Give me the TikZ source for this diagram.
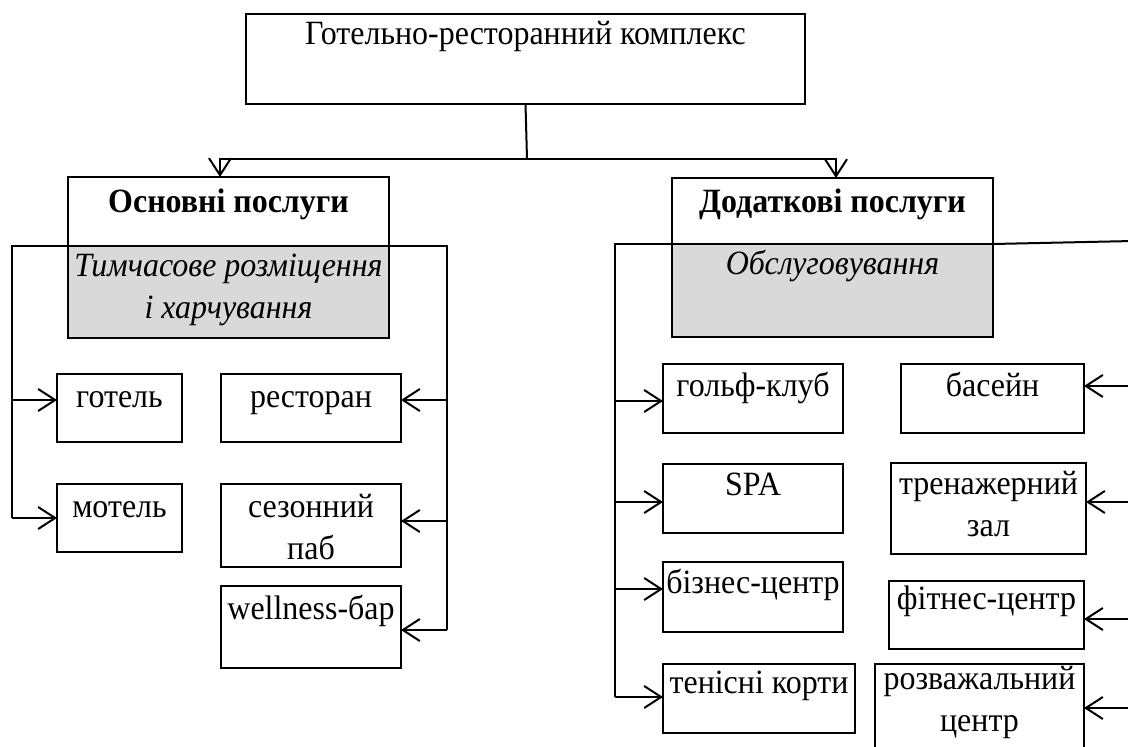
\documentclass[tikz,border=0pt]{standalone}
\usepackage{fontspec}
\setmainfont{Liberation Serif}[FakeStretch=0.94]
\usetikzlibrary{arrows.meta}
\newcommand\boxfont{\fontsize{34}{42}\selectfont}
\begin{document}
\begin{tikzpicture}[x=1pt,y=-1pt,
  frame/.style={draw, line width=2.6pt, inner sep=0pt, outer sep=0pt, anchor=north west},
  topframe/.style={frame, line width=2.2pt},
  greyframe/.style={frame, fill=gray!30},
  tx/.style={anchor=base, inner sep=0pt, text width=540pt, align=flush center, font=\boxfont},
  link/.style={line width=2pt},
  arr/.style={link, -{Straight Barb[length=17pt,width=22pt,line width=2pt]}}]
\useasboundingbox (0,0) rectangle (1128,747);
\fill[white] (0,0) rectangle (1128,747);
\clip (0,0) rectangle (1128,747);

% ---- root ----
\node[topframe, minimum width=559pt, minimum height=90pt] (top) at (246,14) {};
\node[tx, yshift=-30pt] (top-t) at (top.north) {Готельно-ресторанний комплекс};

% ---- two main groups ----
\node[greyframe, minimum width=321pt, minimum height=92pt] (lgrey) at (68,246) {};
\node[frame, minimum width=321pt, minimum height=69pt] (lhead) at (68,177) {};
\node[tx, yshift=-35pt, font=\boxfont\bfseries] (lhead-t) at (lhead.north) {Основні послуги};
\node[tx, yshift=-30pt, font=\boxfont\itshape] (lgrey-t) at (lgrey.north)
  {Тимчасове розміщення\\і харчування};

\node[greyframe, minimum width=321pt, minimum height=93pt] (rgrey) at (672,244) {};
\node[frame, minimum width=321pt, minimum height=66pt] (rhead) at (672,178) {};
\node[tx, yshift=-34pt, font=\boxfont\bfseries] (rhead-t) at (rhead.north) {Додаткові послуги};
\node[tx, yshift=-30pt, font=\boxfont\itshape] (rgrey-t) at (rgrey.north) {Обслуговування};

% ---- basic services ----
\node[frame, minimum width=125pt, minimum height=68pt] (gotel) at (57,374) {};
\node[tx, yshift=-33pt] at (gotel.north) {готель};
\node[frame, minimum width=125pt, minimum height=68pt] (motel) at (57,484) {};
\node[tx, yshift=-33pt] at (motel.north) {мотель};
\node[frame, minimum width=180pt, minimum height=68pt] (rest) at (221,374) {};
\node[tx, yshift=-33pt] at (rest.north) {ресторан};
\node[frame, minimum width=180pt, minimum height=83pt] (pub) at (221,484) {};
\node[tx, yshift=-33pt] at (pub.north) {сезонний\\паб};
\node[frame, minimum width=180pt, minimum height=82pt] (well) at (221,586) {};
\node[tx, yshift=-33pt] at (well.north) {wellness-бар};

% ---- additional services ----
\node[frame, minimum width=180pt, minimum height=69pt] (golf) at (663,364) {};
\node[tx, yshift=-32.5pt] at (golf.north) {гольф-клуб};
\node[frame, minimum width=180pt, minimum height=69pt] (spa) at (663,464) {};
\node[tx, yshift=-31.5pt] at (spa.north) {SPA};
\node[frame, minimum width=180pt, minimum height=70pt] (biz) at (663,562) {};
\node[tx, yshift=-31.5pt] at (biz.north) {бізнес-центр};
\node[frame, minimum width=192pt, minimum height=69pt] (tennis) at (663,664) {};
\node[tx, yshift=-29.5pt] at (tennis.north) {тенісні корти};

\node[frame, minimum width=183pt, minimum height=69pt] (pool) at (901,364) {};
\node[tx, yshift=-32.5pt] at (pool.north) {басейн};
\node[frame, minimum width=195pt, minimum height=91pt] (gym) at (891,463) {};
\node[tx, yshift=-31.5pt] at (gym.north) {тренажерний\\зал};
\node[frame, minimum width=195pt, minimum height=68pt] (fit) at (889,581) {};
\node[tx, yshift=-28.5pt] at (fit.north) {фітнес-центр};
\node[frame, minimum width=209pt, minimum height=100pt] (fun) at (875,664) {};
\node[tx, yshift=-25.5pt] at (fun.north) {розважальний\\центр};

% ---- root to groups ----
\coordinate (j) at (527,159);
\draw[link] (top.south) -- (j);
\draw[arr] (j) -| ([xshift=-8.5pt]lhead.north);
\draw[arr] (j) -| ([xshift=3.5pt]rhead.north);

% ---- basic services rails ----
\coordinate (la) at (12,246);
\coordinate (lb) at (12,400);
\coordinate (lc) at (12,518);
\draw[link] (lhead.south west) -- (la) -- (lc);
\draw[arr] (lb) -- (lb -| gotel.west);
\draw[arr] (lc) -- (lc -| motel.west);

\coordinate (ra) at (447,246);
\coordinate (rb) at (447,400);
\coordinate (rc) at (447,521);
\coordinate (rd) at (447,630);
\draw[link] (lhead.south east) -- (ra) -- (rd);
\draw[arr] (rb) -- (rb -| rest.east);
\draw[arr] (rc) -- (rc -| pub.east);
\draw[arr] (rd) -- (rd -| well.east);

% ---- additional services rails ----
\coordinate (ma) at (615,244);
\coordinate (mb) at (615,401);
\coordinate (mc) at (615,502);
\coordinate (md) at (615,589);
\coordinate (me) at (615,697);
\draw[link] (rhead.south west) -- (ma) -- (me);
\draw[arr] (mb) -- (mb -| golf.west);
\draw[arr] (mc) -- (mc -| spa.west);
\draw[arr] (md) -- (md -| biz.west);
\draw[arr] (me) -- (me -| tennis.west);

\coordinate (oa) at (1133,241);
\coordinate (ob) at (1133,386);
\coordinate (oc) at (1133,502);
\coordinate (od) at (1133,619);
\coordinate (oe) at (1133,708);
\draw[link] (rhead.south east) -- (oa) -- (oe);
\draw[arr] (ob) -- (ob -| pool.east);
\draw[arr] (oc) -- (oc -| gym.east);
\draw[arr] (od) -- (od -| fit.east);
\draw[arr] (oe) -- (oe -| fun.east);
\end{tikzpicture}
\end{document}
